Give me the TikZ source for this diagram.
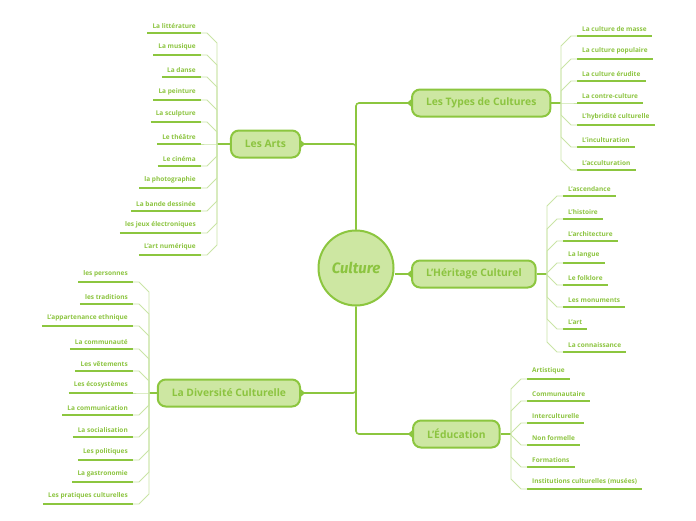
\documentclass[tikz,border=0pt]{standalone}
\usepackage{fontspec}
\setmainfont{Open Sans}
\newfontfamily\hubfont{Fira Sans}
\usetikzlibrary{arrows.meta}
\definecolor{mmline}{HTML}{8CC63F}
\definecolor{mmfill}{HTML}{CDE7A2}
\definecolor{mmtext}{HTML}{8CC440}
\definecolor{mmthin}{HTML}{C9E4A6}

\begin{document}
\begin{tikzpicture}[x=1pt, y=-1pt,
    hub/.style={circle, draw=mmline, line width=2pt, fill=mmfill, text=mmtext,
        minimum size=75pt, inner sep=0pt, font=\hubfont\fontsize{15}{18}\selectfont\bfseries\itshape},
    topic/.style={rounded corners=8pt, draw=mmline, line width=2pt, fill=mmfill, text=mmtext,
        minimum height=27pt, inner xsep=14pt, font=\fontsize{10.3}{12}\selectfont\bfseries},
    leaf/.style={text=mmtext, inner xsep=5pt, inner ysep=4.5pt, font=\fontsize{6.5}{7.5}\selectfont\bfseries},
    uline/.style={draw=mmline, line width=1.8pt},
    stem/.style={draw=mmline, line width=1.6pt},
    link/.style={stem, rounded corners=3pt, -{Triangle[reversed, length=4pt, width=7pt]}},
    twig/.style={draw=mmthin, line width=0.8pt}
]
\useasboundingbox (0,0) rectangle (696,520);

% Centre
\node[hub] (culture) at (356,268) {Culture};

% Topics
\node[topic, anchor=west] (types) at (411,103) {Les Types de Cultures};
\node[topic, anchor=east] (arts) at (301,144) {Les Arts};
\node[topic, anchor=west] (herit) at (411,274) {L'Héritage Culturel};
\node[topic, anchor=east] (divers) at (301,393) {La Diversité Culturelle};
\node[topic, anchor=west] (educ) at (412,434) {L'Éducation};

\draw[link] (culture.north) |- (types.west);
\draw[link] (culture.north) |- (arts.east);
\draw[link] (herit.west -| culture.east) -- (herit.west);
\draw[link] (culture.south) |- (divers.east);
\draw[link] (culture.south) |- (educ.west);

% Spines
\coordinate (typesSp) at (561,103);
\coordinate (artsSp) at (217,144);
\coordinate (heritSp) at (547,274);
\coordinate (diversSp) at (149,393);
\coordinate (educSp) at (511,434);
\draw[stem] (types.east) -- (typesSp);
\draw[stem] (arts.west) -- (artsSp);
\draw[stem] (herit.east) -- (heritSp);
\draw[stem] (divers.west) -- (diversSp);
\draw[stem] (educ.east) -- (educSp);

% Les Types de Cultures
\foreach \txt [count=\i] in {La culture de masse, La culture populaire, La culture érudite,
    La contre-culture, L'hybridité culturelle, L'inculturation, L'acculturation}{
  \pgfmathsetmacro\y{round(103+(\i-4)*22.2)}
  \pgfmathsetmacro\yy{\y+10*sign(103-\y)}
  \node[leaf, anchor=south west] (ty\i) at (577,\y) {\txt};
  \draw[uline] (ty\i.south west) -- (ty\i.south east);
  \draw[twig] (typesSp) -- (561,\yy) -- (571,\y) -- (ty\i.south west);
}

% Les Arts
\foreach \txt [count=\i] in {La littérature, La musique, La danse, La peinture, La sculpture,
    Le théâtre, Le cinéma, la photographie, La bande dessinée, les jeux électroniques,
    L'art numérique}{
  \pgfmathsetmacro\y{round(144+(\i-6)*22.2)}
  \pgfmathsetmacro\yy{\y+10*sign(144-\y)}
  \node[leaf, anchor=south east] (ar\i) at (201,\y) {\txt};
  \draw[uline] (ar\i.south west) -- (ar\i.south east);
  \draw[twig] (artsSp) -- (217,\yy) -- (207,\y) -- (ar\i.south east);
}

% L'Heritage Culturel
\foreach \txt [count=\i] in {L'ascendance, L'histoire, L'architecture, La langue, Le folklore,
    Les monuments, L'art, La connaissance}{
  \pgfmathsetmacro\y{round(274+(\i-4.5)*22.2)}
  \pgfmathsetmacro\yy{\y+10*sign(274-\y)}
  \node[leaf, anchor=south west] (he\i) at (563,\y) {\txt};
  \draw[uline] (he\i.south west) -- (he\i.south east);
  \draw[twig] (heritSp) -- (547,\yy) -- (557,\y) -- (he\i.south west);
}

% La Diversite Culturelle
\foreach \txt [count=\i] in {les personnes, les traditions, L'appartenance ethnique,
    La communauté, Les vêtements, Les écosystèmes, La communication, La socialisation,
    Les politiques, La gastronomie, Les pratiques culturelles}{
  \pgfmathsetmacro\y{round(393+(\i-6)*22.2)}
  \pgfmathsetmacro\yy{\y+10*sign(393-\y)}
  \node[leaf, anchor=south east] (di\i) at (133,\y) {\txt};
  \draw[uline] (di\i.south west) -- (di\i.south east);
  \draw[twig] (diversSp) -- (149,\yy) -- (139,\y) -- (di\i.south east);
}

% L'Education
\foreach \txt [count=\i] in {Artistique, Communautaire, Interculturelle, Non formelle,
    Formations, Institutions culturelles (musées)}{
  \pgfmathsetmacro\y{round(434+(\i-3.5)*22.2)}
  \pgfmathsetmacro\yy{\y+10*sign(434-\y)}
  \node[leaf, anchor=south west] (ed\i) at (527,\y) {\txt};
  \draw[uline] (ed\i.south west) -- (ed\i.south east);
  \draw[twig] (educSp) -- (511,\yy) -- (521,\y) -- (ed\i.south west);
}

\end{tikzpicture}
\end{document}
